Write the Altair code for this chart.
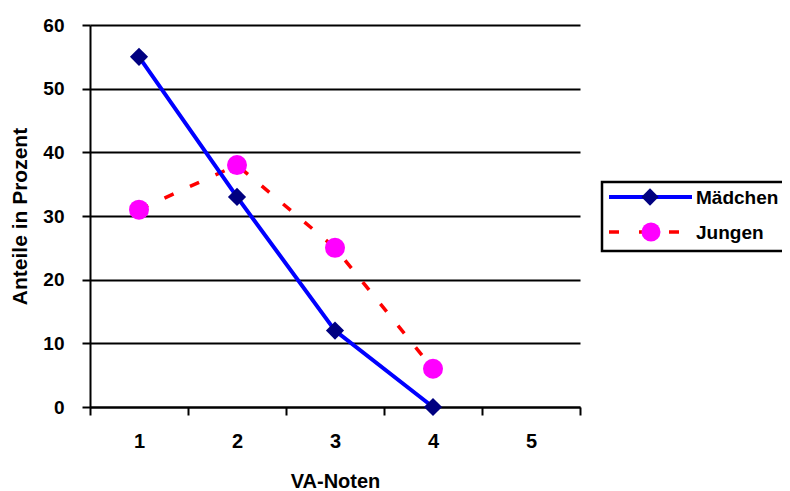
import altair as alt
import pandas as pd

# Data
noten = [1, 2, 3, 4]
maedchen = [55, 33, 12, 0]
jungen = [31, 38, 25, 6]
series_names = ["Mädchen", "Jungen"]
x_ticks = [0.5, 1.5, 2.5, 3.5, 4.5, 5.5]
y_ticks = [0, 10, 20, 30, 40, 50, 60]

df_m = pd.DataFrame({"note": noten, "wert": maedchen})
df_j = pd.DataFrame({"note": noten, "wert": jungen})
one = pd.DataFrame({"k": [0]})

FONT = "Liberation Sans"

x_enc = alt.X(
    "note:Q",
    scale=alt.Scale(domain=[0.5, 5.5], nice=False, zero=False),
    axis=alt.Axis(
        title="VA-Noten",
        values=x_ticks,
        labelExpr="datum.value < 5 ? format(datum.value + 0.5, 'd') : ''",
        labelOffset=49,
        labelFlush=False,
        labelPadding=16,
        tickSize=8,
        tickWidth=2,
        tickColor="black",
        domainColor="black",
        domainWidth=2,
        grid=False,
        labelFont=FONT,
        labelFontSize=20,
        labelFontWeight="bold",
        labelColor="black",
        titleFont=FONT,
        titleFontSize=20,
        titleFontWeight="bold",
        titleColor="black",
        titlePadding=20,
    ),
)
y_enc = alt.Y(
    "wert:Q",
    scale=alt.Scale(domain=[0, 60], nice=False),
    axis=alt.Axis(
        title="Anteile in Prozent",
        values=y_ticks,
        tickSize=8,
        tickWidth=2,
        tickColor="black",
        domainColor="black",
        domainWidth=2,
        grid=True,
        gridColor="black",
        gridWidth=2,
        gridOpacity=1,
        labelFont=FONT,
        labelFontSize=19,
        labelFontWeight="bold",
        labelColor="black",
        labelPadding=18,
        titleFont=FONT,
        titleFontSize=21,
        titleFontWeight="bold",
        titleColor="black",
        titlePadding=12,
    ),
)

line_j = alt.Chart(df_j).mark_line(color="#FF0000", strokeWidth=3.5, strokeDash=[10, 18]).encode(x=x_enc, y=y_enc)
line_m = alt.Chart(df_m).mark_line(color="#0000FF", strokeWidth=4).encode(x=x_enc, y=y_enc)
pts_m = alt.Chart(df_m).mark_point(shape="diamond", filled=True, color="#000080", size=330, opacity=1).encode(x=x_enc, y=y_enc)
pts_j = alt.Chart(df_j).mark_circle(color="#FF00FF", size=400, opacity=1).encode(x=x_enc, y=y_enc)

# Legend (manual, Excel style)
leg_box = alt.Chart(one).mark_rect(fill="white", stroke="black", strokeWidth=2.5).encode(
    x=alt.value(512), x2=alt.value(730), y=alt.value(157), y2=alt.value(226)
)
leg_line_m = alt.Chart(one).mark_rule(color="#0000FF", strokeWidth=4).encode(
    x=alt.value(519), x2=alt.value(602), y=alt.value(172)
)
leg_pt_m = alt.Chart(one).mark_point(shape="diamond", filled=True, color="#000080", size=300, opacity=1).encode(
    x=alt.value(560), y=alt.value(172)
)
leg_line_j = alt.Chart(one).mark_rule(color="#FF0000", strokeWidth=3.5, strokeDash=[10, 20]).encode(
    x=alt.value(519), x2=alt.value(592), y=alt.value(207)
)
leg_pt_j = alt.Chart(one).mark_circle(color="#FF00FF", size=360, opacity=1).encode(
    x=alt.value(561), y=alt.value(207)
)
leg_txt_m = alt.Chart(one).mark_text(
    text=series_names[0], align="left", baseline="middle", font=FONT, fontSize=19, fontWeight="bold", color="black"
).encode(x=alt.value(606), y=alt.value(173))
leg_txt_j = alt.Chart(one).mark_text(
    text=series_names[1], align="left", baseline="middle", font=FONT, fontSize=19, fontWeight="bold", color="black"
).encode(x=alt.value(606), y=alt.value(208))

chart = alt.layer(
    line_j, line_m, pts_m, pts_j,
    leg_box, leg_line_m, leg_pt_m, leg_line_j, leg_pt_j, leg_txt_m, leg_txt_j,
).properties(
    width=490,
    height=382,
    padding={"left": 82, "top": 17, "right": 202, "bottom": 83},
    autosize=alt.AutoSizeParams(type="none"),
    background="white",
).configure_view(stroke=None)

chart.save("out.html", embed_options={"renderer": "svg", "actions": False})
